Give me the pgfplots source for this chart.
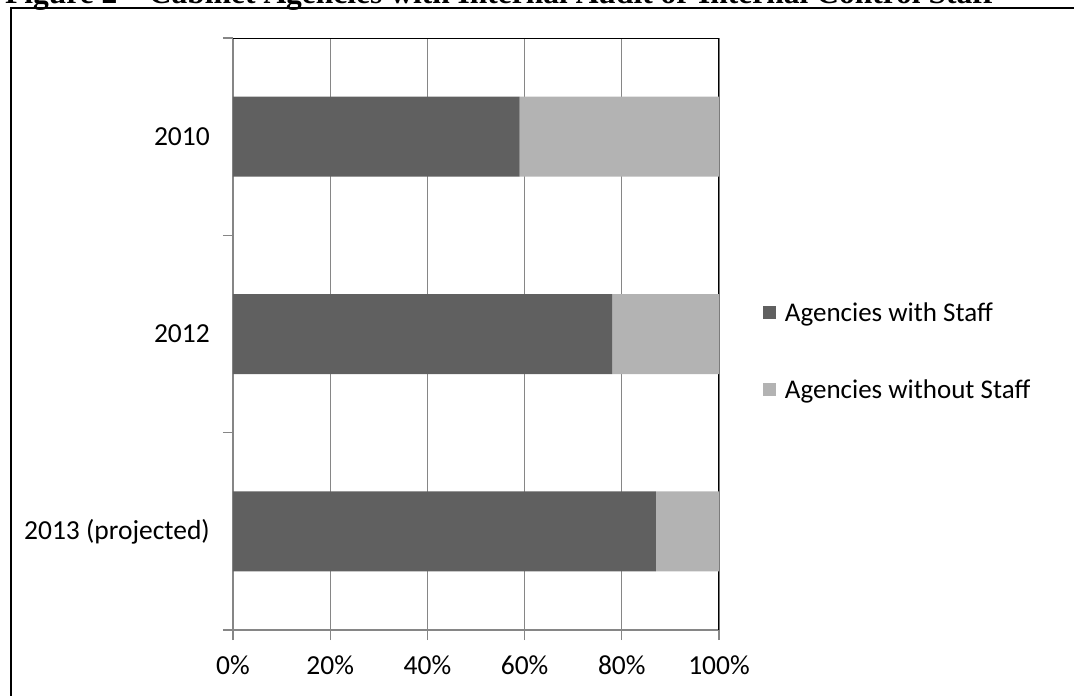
\documentclass[border=0pt]{standalone}
\usepackage{graphicx}
\usepackage{fontspec}
\setmainfont{Carlito}
\newfontfamily\titlefont{Liberation Serif}
\usepackage{pgfplots}
\usepackage{pgfplotstable}
\pgfplotsset{compat=1.18}
\definecolor{withstaff}{HTML}{606060}
\definecolor{nostaff}{HTML}{B3B3B3}
\definecolor{gridgrey}{HTML}{868686}

\pgfplotstableread{
y with without
0 59 41
1 78 22
2 87 13
}\staffdata

\begin{document}
\begin{tikzpicture}[x=1pt,y=1pt]
\useasboundingbox (0,0) rectangle (1074,696);
% clipped caption and the frame of the document cell
\node[anchor=base west, inner sep=0pt] at (5,692)
  {\resizebox{988pt}{!}{\titlefont\bfseries Figure 2 – Cabinet Agencies with Internal Audit or Internal Control Staff}};
\draw[line width=2pt] (11,0) -- (11,688) -- (1074,688);

\begin{axis}[
    at={(233pt,66pt)}, anchor=south west,
    scale only axis,
    width=486pt, height=592pt,
    xbar stacked,
    bar width=80pt,
    xmin=0, xmax=100,
    ymin=-0.5, ymax=2.5,
    y dir=reverse,
    axis lines*=left,
    axis line style={gridgrey, line width=1.5pt},
    xtick={0,20,40,60,80,100},
    xticklabels={0\%,20\%,40\%,60\%,80\%,100\%},
    ytick={-0.5,0.5,1.5,2.5},
    yticklabels={},
    extra y ticks={0,1,2},
    extra y tick labels={2010,2012,2013 (projected)},
    extra y tick style={major tick length=0pt, ymajorgrids=false},
    xmajorgrids=true,
    grid style={gridgrey, line width=1.3pt},
    tick align=outside,
    major tick length=10pt,
    tick style={gridgrey, line width=1.3pt},
    /pgf/number format/assume math mode=true,
    every tick label/.append style={font=\fontsize{27.5}{32}\selectfont, black},
    xticklabel style={inner sep=0pt, yshift=-16pt},
    yticklabel style={inner sep=0pt, xshift=-23pt},
    legend style={draw=none, fill=none, at={(1.09,0.471)}, anchor=west,
      inner sep=0pt, row sep=57pt, font=\fontsize{27}{32}\selectfont,
      nodes={inner sep=0pt, anchor=west}},
    legend cell align=left,
    legend image code/.code={\fill[#1, draw=none] (0pt,-6.5pt) rectangle (13pt,6.5pt);},
]
\addplot[fill=withstaff, draw=none] table[x=with, y=y] {\staffdata};
\addplot[fill=nostaff, draw=none] table[x=without, y=y] {\staffdata};
\legend{\hspace{9pt}Agencies with Staff,\hspace{9pt}Agencies without Staff}
\draw[black, line width=1.5pt] (rel axis cs:0,1) -- (rel axis cs:1,1) -- (rel axis cs:1,0);
\end{axis}
\end{tikzpicture}
\end{document}
